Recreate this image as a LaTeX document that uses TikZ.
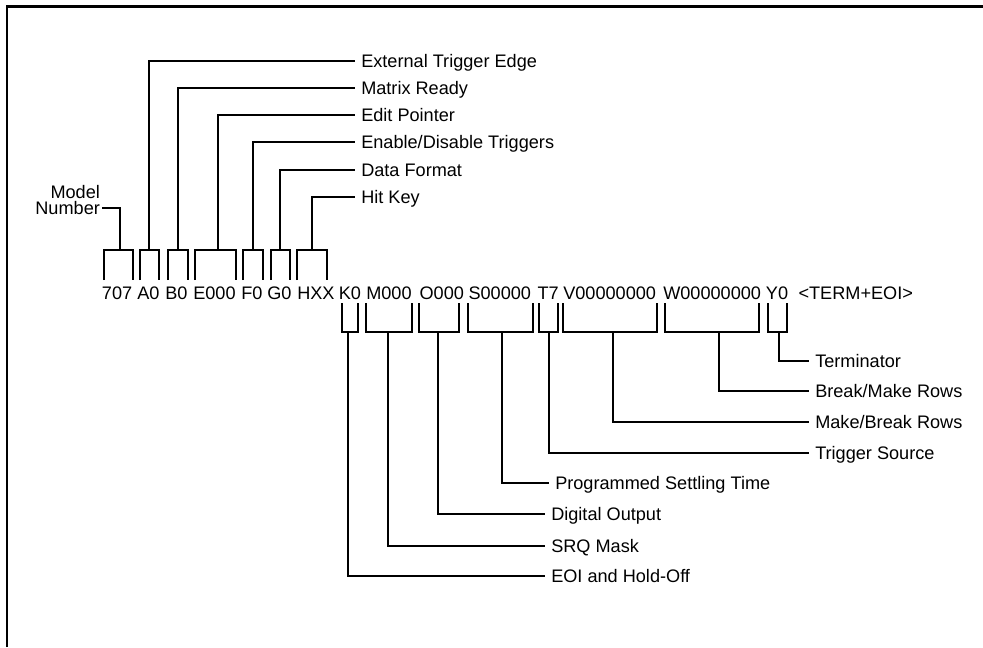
\documentclass[tikz,border=0pt]{standalone}
\usepackage{fontspec}
\setmainfont{Liberation Sans}
\usetikzlibrary{positioning}
\tikzset{
  tok/.style={anchor=base west, inner sep=0pt, font=\fontsize{13.6}{16}\selectfont},
  lbl/.style={anchor=west, inner xsep=4.5pt, inner ysep=0pt, text height=9.7pt,
              text depth=0pt, font=\fontsize{13.6}{16}\selectfont},
  br/.style={draw=black, line width=1.4pt},      % bracket over/under a field
  ln/.style={draw=black, line width=1.4pt},      % leader to a label
  frame/.style={draw=black, line width=1.6pt},
}

\begin{document}
\begin{tikzpicture}[x=0.75pt, y=-0.75pt]
  \useasboundingbox (0,0) rectangle (983,647);
  \draw[frame] (7,647) -- (7,6.5) -- (983,6.5);

  % command string
  \node[tok] (t707) at (101.7,299) {707};
  \node[tok] (tA)   at (137,299)   {A0};
  \node[tok] (tB)   at (165,299)   {B0};
  \node[tok] (tE)   at (193,299)   {E000};
  \node[tok] (tF)   at (241,299)   {F0};
  \node[tok] (tG)   at (267,299)   {G0};
  \node[tok] (tH)   at (297,299)   {HXX};
  \node[tok] (tK)   at (338.5,299) {K0};
  \node[tok] (tM)   at (366,299)   {M000};
  \node[tok] (tO)   at (419.3,299) {O000};
  \node[tok] (tS)   at (468.3,299) {S00000};
  \node[tok] (tT)   at (537.3,299) {T7};
  \node[tok] (tV)   at (563,299)   {V00000000};
  \node[tok] (tW)   at (663,299)   {W00000000};
  \node[tok] (tY)   at (765.7,299) {Y0};
  \node[tok] (tEnd) at (798.3,299) {<TERM+EOI>};

  % upper labels
  \node[lbl, inner xsep=1pt, anchor=east] (lModel) at (101.5,192) {Model};
  \node[lbl, inner xsep=1pt, anchor=east] (lNum)   at (101.5,208) {Number};
  \node[lbl] (lA) at (355,61)    {External Trigger Edge};
  \node[lbl] (lB) at (355,88.3)  {Matrix Ready};
  \node[lbl] (lE) at (355,115)   {Edit Pointer};
  \node[lbl] (lF) at (355,141.7) {Enable/Disable Triggers};
  \node[lbl] (lG) at (355,170)   {Data Format};
  \node[lbl] (lH) at (355,196.7) {Hit Key};

  % lower labels
  \node[lbl] (lY) at (809,361)   {Terminator};
  \node[lbl] (lW) at (809,391)   {Break/Make Rows};
  \node[lbl] (lV) at (809,421.7) {Make/Break Rows};
  \node[lbl] (lT) at (809,452.7) {Trigger Source};
  \node[lbl] (lS) at (549,483.3) {Programmed Settling Time};
  \node[lbl] (lO) at (545,514.3) {Digital Output};
  \node[lbl] (lM) at (545,546)   {SRQ Mask};
  \node[lbl] (lK) at (545,576)   {EOI and Hold-Off};

  % brackets above the string
  \draw[br] (104.3,280) |- (132.7,250) -- (132.7,280);
  \coordinate (s707) at (120,250);
  \draw[ln] (s707) |- (lNum.east);
  \foreach \n/\l/\r/\s in {A/140/159.3/149.3, B/168.3/188.3/178, E/195/235.7/218,
                           F/243.3/262.7/253, G/270.7/290/280, H/297.3/326.7/311.7}
  {
    \draw[br] (\l,280) |- (\r,250) -- (\r,280);
    \coordinate (s\n) at (\s,250);
    \draw[ln] (s\n) |- (l\n.west);
  }

  % brackets below the string
  \foreach \n/\l/\r/\s in {K/342/358/348.3, M/366/411.7/387.7, O/419/459.3/438.3,
                           S/467.7/533.3/502.3, T/539.3/558.3/549.3, V/562.7/657.3/613.3,
                           W/665/759.3/719.3, Y/767.7/786.7/779.3}
  {
    \draw[br] (\l,303) |- (\r,332) -- (\r,303);
    \coordinate (s\n) at (\s,332);
    \draw[ln] (s\n) |- (l\n.west);
  }
\end{tikzpicture}
\end{document}
